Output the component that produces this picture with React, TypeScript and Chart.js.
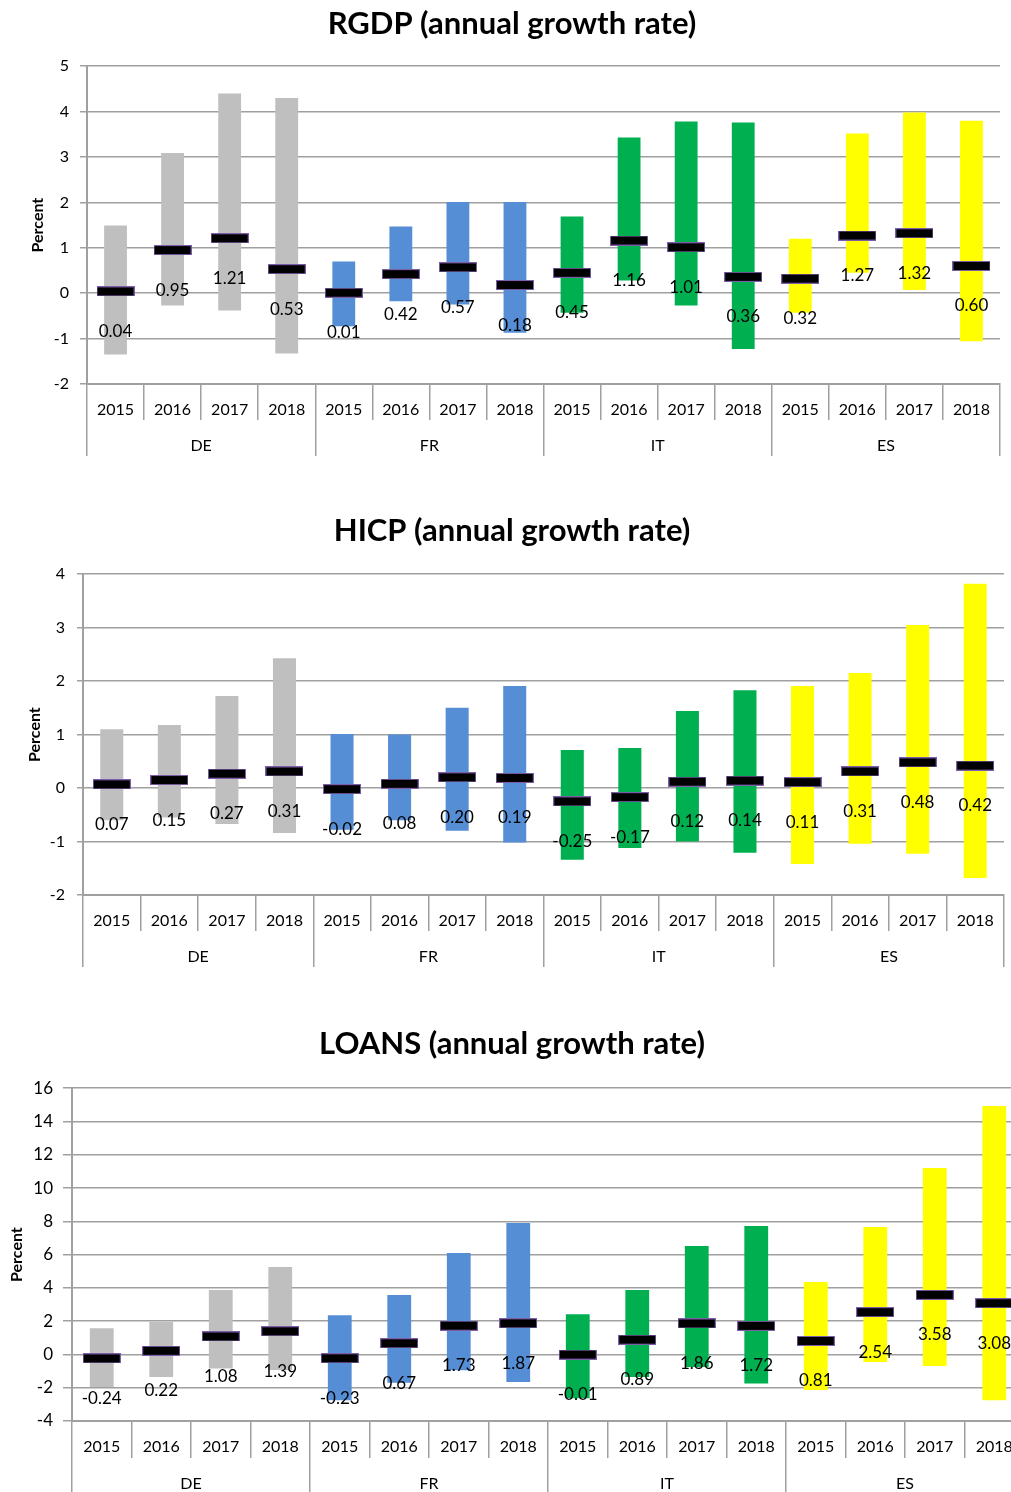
import React, { useEffect, useRef } from 'react';
import { Chart, registerables } from 'chart.js';

Chart.register(...registerables);

// ---------- data ----------
const YEARS = ['2015', '2016', '2017', '2018'];
const COUNTRIES = ['DE', 'FR', 'IT', 'ES'];
const COUNTRY_COLORS = ['#BFBFBF', '#558ED5', '#00B050', '#FFFF00'];
const CATEGORY_LABELS = COUNTRIES.flatMap(() => YEARS);

// RGDP (annual growth rate)
const RGDP_LOW = [-1.35, -0.27, -0.38, -1.33, -0.73, -0.18, -0.25, -0.87, -0.43, 0.28, -0.27, -1.23, -0.43, 0.45, 0.07, -1.06];
const RGDP_HIGH = [1.49, 3.09, 4.4, 4.3, 0.7, 1.47, 2.01, 2.01, 1.69, 3.43, 3.78, 3.76, 1.2, 3.52, 3.98, 3.8];
const RGDP_MEDIAN = [0.04, 0.95, 1.21, 0.53, 0.01, 0.42, 0.57, 0.18, 0.45, 1.16, 1.01, 0.36, 0.32, 1.27, 1.32, 0.6];

// HICP (annual growth rate)
const HICP_LOW = [-0.6, -0.55, -0.67, -0.84, -0.78, -0.6, -0.8, -1.02, -1.34, -1.12, -1.0, -1.21, -1.42, -1.04, -1.23, -1.68];
const HICP_HIGH = [1.1, 1.18, 1.72, 2.43, 1.01, 1.0, 1.5, 1.91, 0.71, 0.75, 1.44, 1.83, 1.91, 2.15, 3.05, 3.82];
const HICP_MEDIAN = [0.07, 0.15, 0.27, 0.31, -0.02, 0.08, 0.2, 0.19, -0.25, -0.17, 0.12, 0.14, 0.11, 0.31, 0.48, 0.42];

// LOANS (annual growth rate)
const LOANS_LOW = [-1.95, -1.35, -0.84, -0.94, -2.75, -1.7, -0.95, -1.65, -2.63, -1.35, -0.75, -1.74, -2.14, -0.46, -0.7, -2.75];
const LOANS_HIGH = [1.58, 1.96, 3.87, 5.25, 2.36, 3.57, 6.09, 7.9, 2.42, 3.87, 6.51, 7.72, 4.35, 7.66, 11.2, 14.93];
const LOANS_MEDIAN = [-0.24, 0.22, 1.08, 1.39, -0.23, 0.67, 1.73, 1.87, -0.01, 0.89, 1.86, 1.72, 0.81, 2.54, 3.58, 3.08];

// ---------- styling ----------
const FONT = 'Lato, "Open Sans", sans-serif';
const GRID = '#A0A0A0';

type Panel = {
  title: string;
  low: number[];
  high: number[];
  median: number[];
  yMin: number;
  yMax: number;
  step: number;
  top: number;
  width: number;
  height: number;
  padL: number;
  padR: number;
  padB: number;
  yAxisW: number;
  yTitlePad: number;
  yTickLen: number;
  yTickPad: number;
  yTickSize: number;
  titlePadTop: number;
  titlePadBottom: number;
  xAxisH: number;
};

const PANELS: Panel[] = [
  {
    title: 'RGDP (annual growth rate)', low: RGDP_LOW, high: RGDP_HIGH, median: RGDP_MEDIAN,
    yMin: -2, yMax: 5, step: 1,
    top: 0, width: 1011, height: 470, padL: 24, padR: 11, padB: 14, yAxisW: 63, yTitlePad: 4.4,
    yTickLen: 7, yTickPad: 11, yTickSize: 16, titlePadTop: 5, titlePadBottom: 24, xAxisH: 36,
  },
  {
    title: 'HICP (annual growth rate)', low: HICP_LOW, high: HICP_HIGH, median: HICP_MEDIAN,
    yMin: -2, yMax: 4, step: 1,
    top: 480, width: 1011, height: 500, padL: 19, padR: 6, padB: 13, yAxisW: 64, yTitlePad: 6.4,
    yTickLen: 6, yTickPad: 12, yTickSize: 16, titlePadTop: 32, titlePadBottom: 25, xAxisH: 36,
  },
  {
    title: 'LOANS (annual growth rate)', low: LOANS_LOW, high: LOANS_HIGH, median: LOANS_MEDIAN,
    yMin: -4, yMax: 16, step: 2,
    top: 995, width: 1040, height: 520, padL: 0, padR: 16, padB: 20, yAxisW: 72, yTitlePad: 7.4,
    yTickLen: 9, yTickPad: 10, yTickSize: 17, titlePadTop: 30, titlePadBottom: 26, xAxisH: 37,
  },
];

function makeMarker(): HTMLCanvasElement {
  const c = document.createElement('canvas');
  c.width = 38;
  c.height = 10;
  const ctx = c.getContext('2d')!;
  ctx.fillStyle = '#7B5EA7';
  ctx.fillRect(0, 0, 38, 10);
  ctx.fillStyle = '#000000';
  ctx.fillRect(1, 1, 36, 8);
  return c;
}

const medianLabels = {
  id: 'medianLabels',
  afterDatasetsDraw(chart: any) {
    const ctx = chart.ctx;
    const meta = chart.getDatasetMeta(1);
    const values = chart.data.datasets[1].data as number[];
    ctx.save();
    ctx.font = `17px ${FONT}`;
    ctx.fillStyle = '#000';
    ctx.textAlign = 'center';
    ctx.textBaseline = 'middle';
    meta.data.forEach((pt: any, i: number) => {
      ctx.fillText(values[i].toFixed(2), pt.x, pt.y + 40);
    });
    ctx.restore();
  },
};

function RangeChart({ p }: { p: Panel }) {
  const ref = useRef<HTMLCanvasElement | null>(null);

  useEffect(() => {
    if (!ref.current) return;
    const marker = makeMarker();
    const barColors = CATEGORY_LABELS.map((_, i) => COUNTRY_COLORS[Math.floor(i / YEARS.length)]);
    const tickPad = 16.4 - p.xAxisH;
    const chart = new Chart(ref.current, {
      type: 'bar',
      data: {
        labels: CATEGORY_LABELS,
        datasets: [
          {
            type: 'bar',
            data: p.low.map((l, i) => [l, p.high[i]]) as any,
            backgroundColor: barColors,
            borderWidth: 0,
            barPercentage: 0.4,
            categoryPercentage: 1,
            order: 2,
            xAxisID: 'x',
            yAxisID: 'y',
          } as any,
          {
            type: 'line',
            data: p.median,
            showLine: false,
            pointStyle: marker,
            pointRadius: 6,
            order: 1,
            xAxisID: 'x',
            yAxisID: 'y',
          } as any,
        ],
      },
      options: {
        responsive: false,
        animation: false,
        events: [],
        layout: { padding: { left: p.padL, right: p.padR, top: 0, bottom: p.padB } },
        plugins: {
          legend: { display: false },
          tooltip: { enabled: false },
          title: {
            display: true,
            text: p.title,
            color: '#000',
            font: { family: FONT, size: 31, weight: 'bold' },
            padding: { top: p.titlePadTop, bottom: p.titlePadBottom },
          },
        },
        scales: {
          y: {
            min: p.yMin,
            max: p.yMax,
            ticks: { stepSize: p.step, padding: p.yTickPad, color: '#000', font: { family: FONT, size: p.yTickSize } },
            grid: { color: GRID, lineWidth: 1.5, tickLength: p.yTickLen, drawTicks: true },
            border: { color: GRID, width: 2 },
            title: {
              display: true,
              text: 'Percent',
              color: '#000',
              font: { family: FONT, size: 16, weight: 'bold' },
              padding: { top: p.yTitlePad, bottom: 0 },
            },
            afterFit: (s: any) => { s.width = p.yAxisW; },
          },
          x: {
            type: 'category',
            position: 'bottom',
            offset: true,
            grid: { offset: true, drawOnChartArea: false, drawTicks: true, tickLength: p.xAxisH, color: GRID, lineWidth: 1.5 },
            border: { display: true, color: GRID, width: 2 },
            ticks: { padding: tickPad, color: '#000', font: { family: FONT, size: 16 }, maxRotation: 0, autoSkip: false },
            afterFit: (s: any) => { s.height = p.xAxisH; },
          },
          x2: {
            type: 'category',
            position: 'bottom',
            labels: COUNTRIES,
            offset: true,
            grid: { offset: true, drawOnChartArea: false, drawTicks: true, tickLength: p.xAxisH, color: GRID, lineWidth: 1.5 },
            border: { display: false },
            ticks: { padding: tickPad, color: '#000', font: { family: FONT, size: 16 }, maxRotation: 0, autoSkip: false },
            afterFit: (s: any) => { s.height = p.xAxisH; },
          },
        },
      } as any,
      plugins: [medianLabels],
    });
    return () => chart.destroy();
  }, [p]);

  return (
    <canvas
      ref={ref}
      width={p.width}
      height={p.height}
      style={{ position: 'absolute', left: 0, top: p.top, display: 'block' }}
    />
  );
}

export default function App() {
  return (
    <div
      style={{
        position: 'absolute',
        left: 0,
        top: 0,
        width: 1011,
        height: 1492,
        overflow: 'hidden',
        background: '#ffffff',
      }}
    >
      {PANELS.map((p) => (
        <RangeChart key={p.title} p={p} />
      ))}
    </div>
  );
}
